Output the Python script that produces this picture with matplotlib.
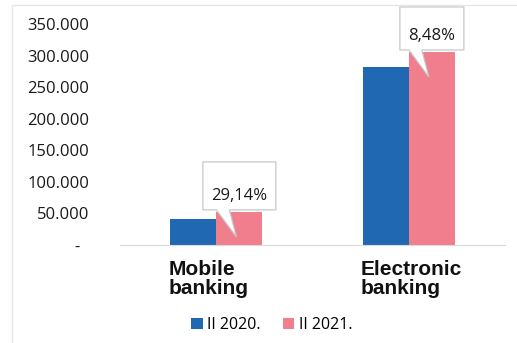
import numpy as np
import matplotlib
matplotlib.use("Agg")
import matplotlib.pyplot as plt
import matplotlib.transforms as mtransforms
from matplotlib.patches import Polygon, Rectangle

# data
categories = ["Mobile\nbanking", "Electronic\nbanking"]
series_names = ["II 2020.", "II 2021."]
values_2020 = [40600, 281800]
values_2021 = [52430, 305700]
growth_labels = ["29,14%", "8,48%"]
y_ticks = [0, 50000, 100000, 150000, 200000, 250000, 300000, 350000]

blue = "#2068B2"
pink = "#F07E8C"

plt.rcParams["font.family"] = ["Open Sans", "DejaVu Sans"]

fig = plt.figure(figsize=(5.17, 3.43), dpi=100)
ax = fig.add_axes([120 / 517, 98 / 343, 385 / 517, 221 / 343])

x = np.arange(len(categories))
w = 0.24
ax.bar(x - w / 2, values_2020, w, color=blue, label=series_names[0])
ax.bar(x + w / 2, values_2021, w, color=pink, label=series_names[1])

ax.set_xlim(-0.5, 1.5)
ax.set_ylim(0, 350000)
ax.set_yticks(y_ticks)


def fmt(v):
    if v == 0:
        return "-  "
    return f"{v:,.0f}".replace(",", ".")


ax.set_yticklabels([fmt(v) for v in y_ticks], fontsize=12, color="#1a1a1a")
ax.tick_params(axis="y", length=0, pad=22)
ax.set_xticks([])
for s in ["top", "right", "left"]:
    ax.spines[s].set_visible(False)
ax.spines["bottom"].set_color("#d9d9d9")

# category labels under the axis
for i, c in enumerate(categories):
    ax.annotate(c, xy=(i - 0.25, 0), xycoords=("data", "axes fraction"),
                xytext=(0, -11), textcoords="offset points",
                ha="left", va="top", fontsize=15, fontweight="bold",
                family="Liberation Sans", linespacing=0.95, color="#111111")

# callouts with growth labels, geometry in pixels relative to pink bar top
box_widths = [73, 64]
for i, lab in enumerate(growth_labels):
    bw = box_widths[i]
    trans = fig.dpi_scale_trans + mtransforms.ScaledTranslation(
        x[i] + w / 2, values_2021[i], ax.transData)
    top = 50 if i == 0 else 45
    pts = np.array([
        (-bw / 2, 2), (-23, 2), (-3, -25), (-10, 2), (bw / 2, 2),
        (bw / 2, top), (-bw / 2, top)]) / 100.0
    ax.add_patch(Polygon(pts, closed=True, transform=trans, facecolor="white",
                         edgecolor="#c8c8c8", linewidth=0.9, clip_on=False,
                         zorder=5))
    ax.text(0, 16 / 100, lab, transform=trans, ha="center", va="center",
            fontsize=12, color="#1a1a1a", zorder=6)

fig.legend(loc="center", bbox_to_anchor=(272 / 517, 18 / 343), ncol=2,
           frameon=False, fontsize=11.5, handlelength=0.7, handleheight=0.7,
           handletextpad=0.3, columnspacing=1.4)

# faint frame of the chart area
fig.add_artist(Rectangle((12 / 517, -0.01), 1.0, 338 / 343 + 0.01,
                         transform=fig.transFigure, fill=False,
                         edgecolor="#e6e6e6", linewidth=1))

fig.savefig("out.png", dpi=100)
